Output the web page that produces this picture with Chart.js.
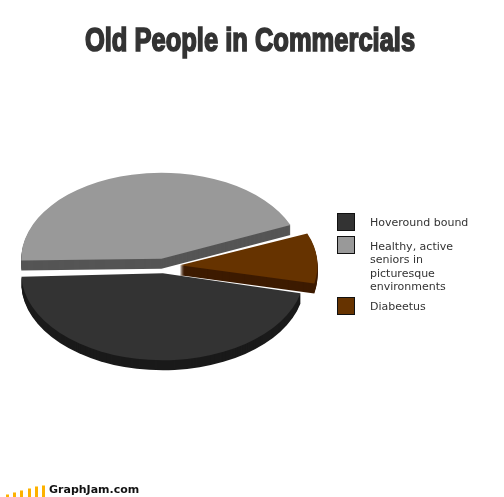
<!DOCTYPE html>
<html>
<head>
<meta charset="utf-8">
<title>Old People in Commercials</title>
<script src="https://cdn.jsdelivr.net/npm/chart.js@4/dist/chart.umd.min.js"></script>
<style>
html, body { margin: 0; padding: 0; background: #fff; overflow: hidden; }
#wrap { position: relative; width: 504px; height: 497px; overflow: hidden; }
#graphCanvas { position: absolute; left: 0; top: 0; }
#title {
	position: absolute; left: 250px; top: 21px; white-space: nowrap;
	font: bold 33px "Liberation Sans", sans-serif;
	color: #333; -webkit-text-stroke: 1.7px #333; transform-origin: 0 0;
}
.swatch { position: absolute; left: 337px; width: 16px; height: 16px; border: 1px solid #111; }
.label {
	position: absolute; left: 370px; width: 125px;
	font: 11px/13.4px "DejaVu Sans", sans-serif; color: #333;
}
#footer { position: absolute; left: 49px; top: 483px; font: bold 11px "DejaVu Sans", sans-serif; color: #111; }
.logoBar { position: absolute; width: 3px; bottom: 0; background: #fdb100; border-top: 1px solid #fed97a; box-sizing: border-box; }
</style>
</head>
<body>
<div id="wrap">
	<canvas id="graphCanvas" width="504" height="497"></canvas>
	<div id="title"></div>
	<div id="legend"></div>
	<div id="logo"></div>
	<div id="footer"></div>
</div>
<script>
// Data
const chartTitle = "Old People in Commercials";
const categories = ["Hoveround bound", "Healthy, active seniors in picturesque environments", "Diabeetus"];
const legendLines = [
	["Hoveround bound"],
	["Healthy, active", "seniors in", "picturesque", "environments"],
	["Diabeetus"]
];
const shares = [46, 44.2, 9.8];
const footerText = "GraphJam.com";
const logoHeights = [3, 5, 7, 9, 11, 12];

// Styles
const topColors = ["#333333", "#999999", "#663300"];
const sideColors = ["#1a1a1a", "#555555", "#3d1b00"];
const sliceOffset = 48;					// arc moves offset/4 px and also grows
const sliceNudge = [0, 0, 4];			// brown slice sits a bit further out
const drawOrder = [1, 2, 0];

// Squashed pie settings
const pieX = 164;
const pieY = 266;
const squash = 0.614;
const depth = 10;

// Draws arcs flattened, with an extruded edge under each one
const squashedPie = {
	id: 'squashedPie',
	beforeDatasetsDraw: function (chart) {
		const ctx = chart.ctx;
		const arcs = chart.getDatasetMeta(0).data;
		drawOrder.forEach(function (i) {
			const arc = arcs[i];
			const side = Object.create(arc);
			side.options = Object.assign({}, arc.options, { backgroundColor: sideColors[i], borderWidth: 0 });
			for (let d = depth; d >= 0; d--) {
				ctx.save();
				ctx.translate(pieX + sliceNudge[i], pieY + d);
				ctx.scale(1, squash);
				ctx.translate(-arc.x, -arc.y);
				(d > 0 ? side : arc).draw(ctx);
				ctx.restore();
			}
		});
		return false;
	}
};

new Chart(document.getElementById('graphCanvas'), {
	type: 'pie',
	plugins: [squashedPie],
	data: {
		labels: categories,
		datasets: [{
			data: shares,
			backgroundColor: topColors,
			borderWidth: 0,
			offset: sliceOffset
		}]
	},
	options: {
		responsive: false,
		animation: false,
		events: [],
		rotation: 102.7,
		radius: 132.5,
		plugins: {
			legend: { display: false },
			tooltip: { enabled: false }
		}
	}
});

// Title, legend and footer
const titleBox = document.getElementById('title');
titleBox.textContent = chartTitle;
const titleScale = 330 / titleBox.offsetWidth;
titleBox.style.transform = 'scaleX(' + titleScale + ') translateX(-50%)';
document.getElementById('footer').textContent = footerText;

const swatchTops = [213, 236, 297];
const labelTops = [216, 240, 300];
const legendBox = document.getElementById('legend');
categories.forEach(function (name, i) {
	const swatch = document.createElement('div');
	swatch.className = 'swatch';
	swatch.style.top = swatchTops[i] + 'px';
	swatch.style.background = topColors[i];
	legendBox.appendChild(swatch);
	const label = document.createElement('div');
	label.className = 'label';
	label.style.top = labelTops[i] + 'px';
	label.innerHTML = legendLines[i].join('<br>');
	legendBox.appendChild(label);
});

const logoBox = document.getElementById('logo');
logoBox.style.cssText = 'position:absolute;left:6px;top:483px;width:40px;height:14px';
logoHeights.forEach(function (h, i) {
	const bar = document.createElement('div');
	bar.className = 'logoBar';
	bar.style.left = (i * 7.2) + 'px';
	bar.style.height = h + 'px';
	logoBox.appendChild(bar);
});
</script>
</body>
</html>
